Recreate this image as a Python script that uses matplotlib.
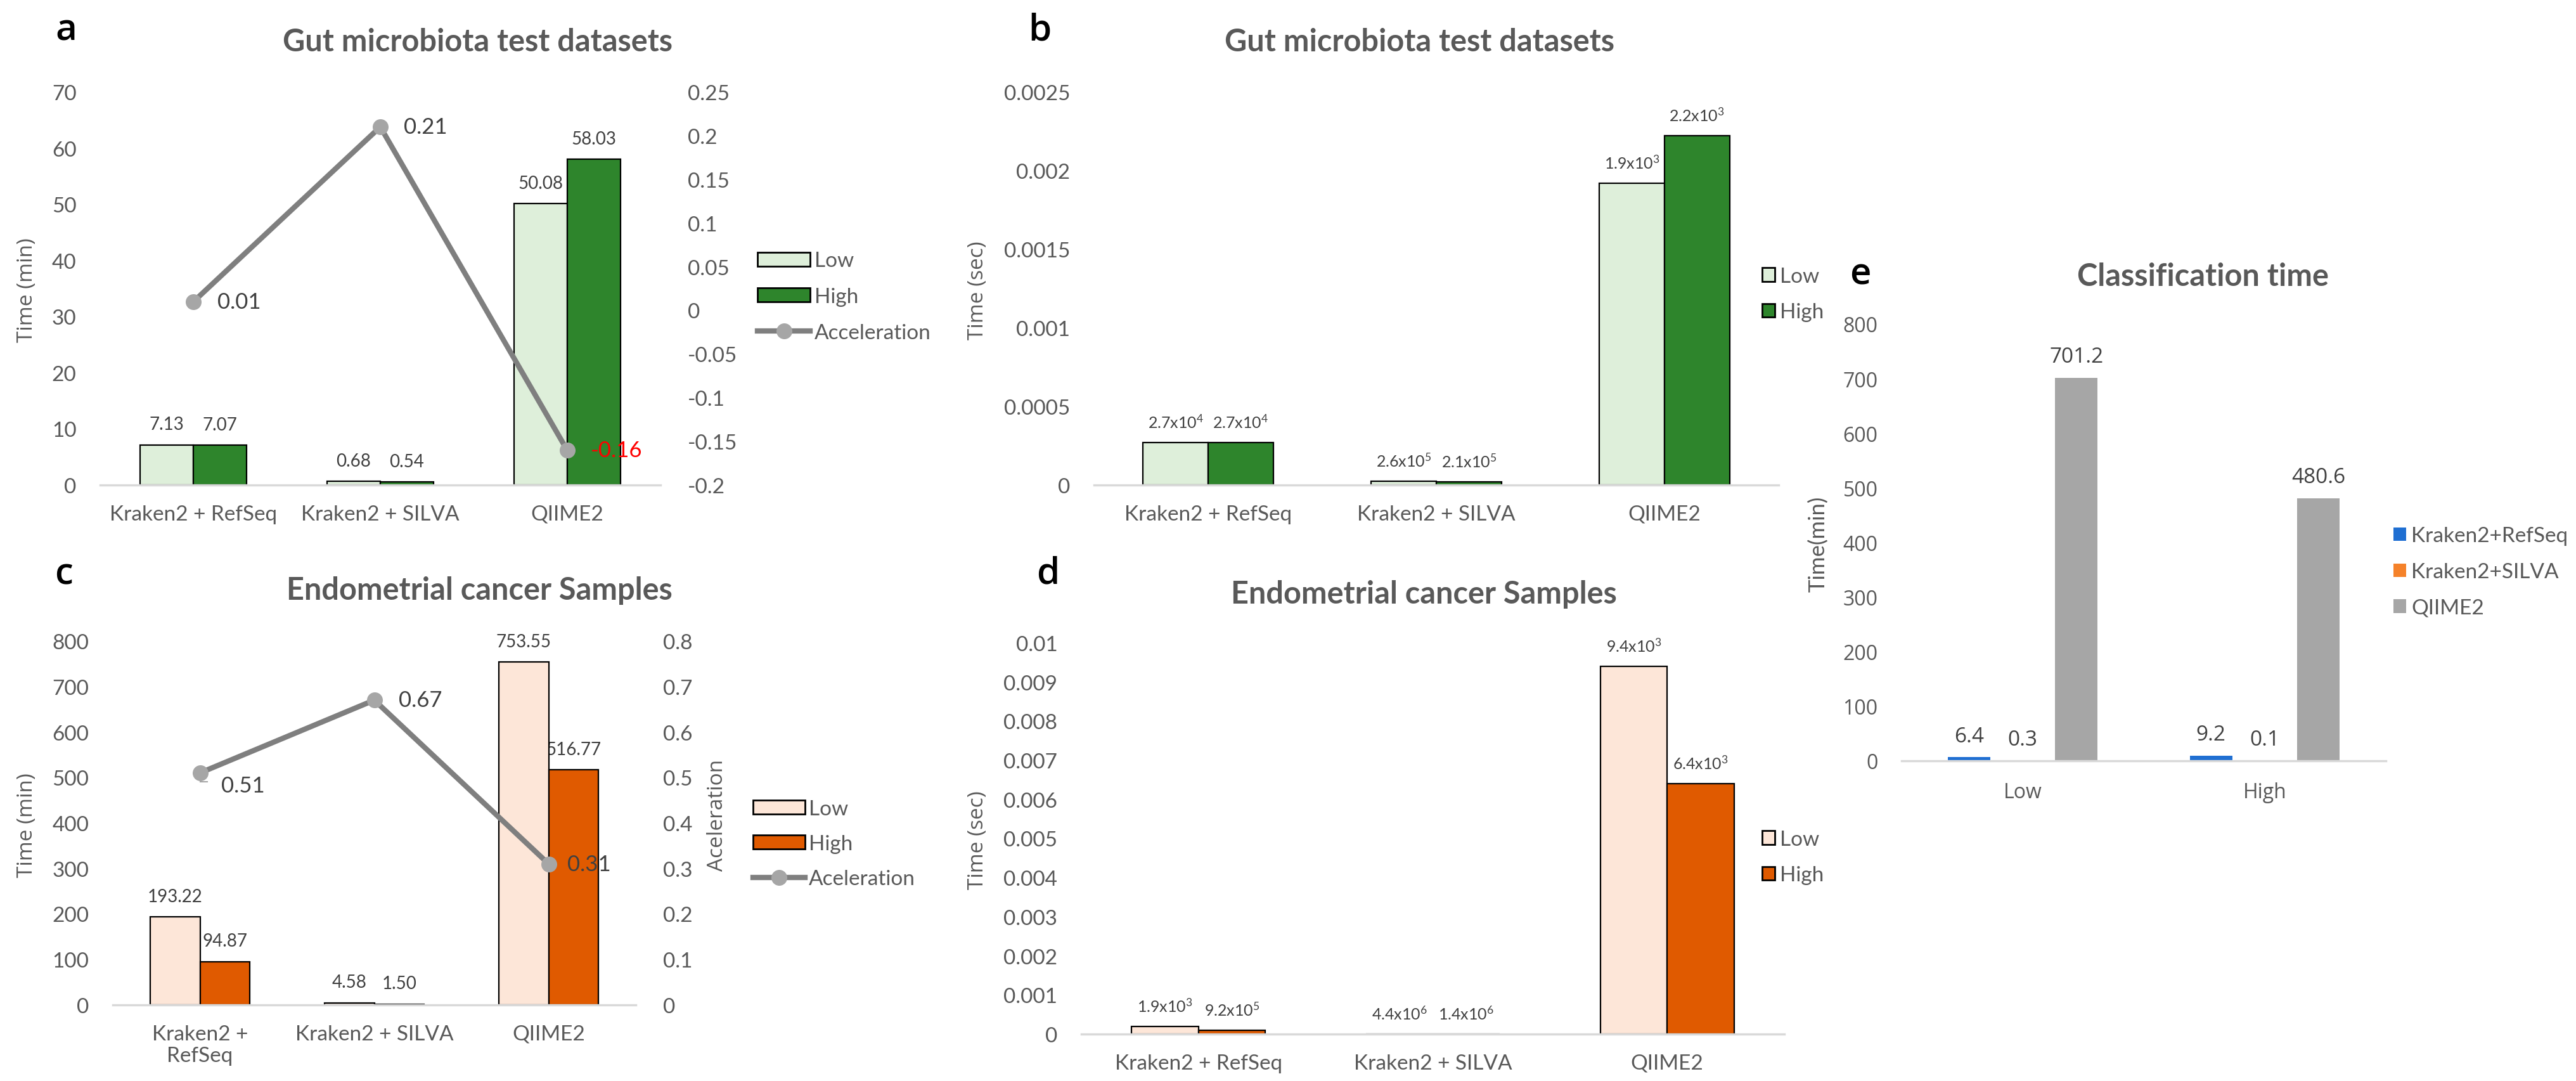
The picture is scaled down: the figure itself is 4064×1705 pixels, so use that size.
import numpy as np
import matplotlib
matplotlib.use('Agg')
import matplotlib.pyplot as plt
from matplotlib.lines import Line2D
from matplotlib.patches import Patch
from matplotlib.ticker import FuncFormatter

plt.rcParams['font.family'] = ['Lato', 'DejaVu Sans']
plt.rcParams['mathtext.fontset'] = 'custom'
plt.rcParams['mathtext.rm'] = 'Lato'
plt.rcParams['mathtext.it'] = 'Lato:italic'
plt.rcParams['mathtext.bf'] = 'Lato:bold'

# data
tools = ['Kraken2 + RefSeq', 'Kraken2 + SILVA', 'QIIME2']
tools_c = ['Kraken2 +\nRefSeq', 'Kraken2 + SILVA', 'QIIME2']

gut_min_low = [7.13, 0.68, 50.08]
gut_min_high = [7.07, 0.54, 58.03]
gut_accel = [0.01, 0.21, -0.16]

gut_sec_low = [2.7e-4, 2.6e-5, 1.92e-3]
gut_sec_high = [2.7e-4, 2.1e-5, 2.22e-3]
gut_sec_low_lbl = [r'2.7x10$^{\mathrm{4}}$', r'2.6x10$^{\mathrm{5}}$', r'1.9x10$^{\mathrm{3}}$']
gut_sec_high_lbl = [r'2.7x10$^{\mathrm{4}}$', r'2.1x10$^{\mathrm{5}}$', r'2.2x10$^{\mathrm{3}}$']

endo_min_low = [193.22, 4.58, 753.55]
endo_min_high = [94.87, 1.50, 516.77]
endo_accel = [0.51, 0.67, 0.31]

endo_sec_low = [1.9e-4, 4.4e-6, 9.4e-3]
endo_sec_high = [9.2e-5, 1.4e-6, 6.4e-3]
endo_sec_low_lbl = [r'1.9x10$^{\mathrm{3}}$', r'4.4x10$^{\mathrm{6}}$', r'9.4x10$^{\mathrm{3}}$']
endo_sec_high_lbl = [r'9.2x10$^{\mathrm{5}}$', r'1.4x10$^{\mathrm{6}}$', r'6.4x10$^{\mathrm{3}}$']

cls_groups = ['Low', 'High']
cls_names = ['Kraken2+RefSeq', 'Kraken2+SILVA', 'QIIME2']
cls_refseq = [6.4, 9.2]
cls_silva = [0.3, 0.1]
cls_qiime = [701.2, 480.6]

W, H = 4064, 1706
GREY_TXT = '#595959'
LBL = '#404040'


def box(l, t, r, b):
    return [l / W, 1 - b / H, (r - l) / W, (b - t) / H]


def fx(x):
    return x / W


def fy(y):
    return 1 - y / H


def fmt(v, pos):
    return f'{round(v, 5) + 0.0:g}'


def style(ax, pad_y=27):
    for s in ['top', 'left', 'right']:
        ax.spines[s].set_visible(False)
    ax.spines['bottom'].set_color('#D9D9D9')
    ax.spines['bottom'].set_linewidth(2.5)
    ax.tick_params(axis='both', length=0, labelsize=24, colors=GREY_TXT)
    ax.tick_params(axis='y', pad=pad_y)
    ax.tick_params(axis='x', pad=22)
    ax.yaxis.set_major_formatter(FuncFormatter(fmt))


fig = plt.figure(figsize=(W / 100, H / 100), dpi=100)

x = np.arange(3)
bw = 0.285

panels = [
    dict(rect=box(158, 146, 1042, 766), low=gut_min_low, high=gut_min_high,
         ll=[f'{v:.2f}' for v in gut_min_low], hl=[f'{v:.2f}' for v in gut_min_high],
         cols=('#DEEFDA', '#2E852C'), ylim=70, step=10, cats=tools, lfs=20,
         accel=gut_accel, alim=(-0.2, 0.25), astep=0.05),
    dict(rect=box(1726, 146, 2806, 766), low=gut_sec_low, high=gut_sec_high,
         ll=gut_sec_low_lbl, hl=gut_sec_high_lbl, lfs=18,
         cols=('#DEEFDA', '#2E852C'), ylim=0.0025, step=0.0005, cats=tools),
    dict(rect=box(178, 1012, 1003, 1586), low=endo_min_low, high=endo_min_high,
         ll=[f'{v:.2f}' for v in endo_min_low], hl=[f'{v:.2f}' for v in endo_min_high],
         cols=('#FDE6D8', '#E05A00'), ylim=800, step=100, cats=tools_c, lfs=20,
         accel=endo_accel, alim=(0, 0.8), astep=0.1),
    dict(rect=box(1706, 1015, 2815, 1632), low=endo_sec_low, high=endo_sec_high,
         ll=endo_sec_low_lbl, hl=endo_sec_high_lbl, lfs=18,
         cols=('#FDE6D8', '#E05A00'), ylim=0.01, step=0.001, cats=tools),
]

for p in panels:
    ax = fig.add_axes(p['rect'])
    b1 = ax.bar(x - bw / 2, p['low'], bw, color=p['cols'][0], edgecolor='black', linewidth=1.6, label='Low')
    b2 = ax.bar(x + bw / 2, p['high'], bw, color=p['cols'][1], edgecolor='black', linewidth=1.6, label='High')
    for bars, labs in [(b1, p['ll']), (b2, p['hl'])]:
        for t in ax.bar_label(bars, labels=labs, padding=14, fontsize=p['lfs'], color=LBL):
            t.set_zorder(0.5)
    ax.set_xlim(-0.5, 2.5)
    ax.set_ylim(0, p['ylim'])
    ax.set_yticks(np.linspace(0, p['ylim'], int(round(p['ylim'] / p['step'])) + 1))
    ax.set_xticks(x, p['cats'])
    style(ax)
    if 'accel' in p:
        ax2 = ax.twinx()
        ax2.plot(x, p['accel'], color='#7F7F7F', lw=6, marker='o', ms=17,
                 mfc='#A6A6A6', mec='#A6A6A6', solid_capstyle='round')
        lo, hi = p['alim']
        ax2.set_ylim(lo, hi)
        ax2.set_yticks(np.linspace(lo, hi, int(round((hi - lo) / p['astep'])) + 1))
        style(ax2, pad_y=31)
        ax2.spines['bottom'].set_visible(False)
        p['ax2'] = ax2
    p['ax'] = ax

# acceleration point labels
pa = panels[0]['ax2']
for xi, v in zip(x, gut_accel):
    pa.annotate(f'{v:.2f}', (xi, v), xytext=(27, 0), textcoords='offset points',
                ha='left', va='center', fontsize=25,
                color='#FF0000' if v < 0 else LBL)
pc = panels[2]['ax2']
offs = [(24, -14), (28, 0), (21, 0)]
for xi, v, o in zip(x, endo_accel, offs):
    pc.annotate(f'{v:.2f}', (xi, v), xytext=o, textcoords='offset points',
                ha='left', va='center', fontsize=25, color=LBL)
pc.plot([0, 0.04], [0.49, 0.49], color='#A6A6A6', lw=1.5)


def leg_line(fc, lab_line):
    h = [Patch(facecolor=fc[0], edgecolor='black', linewidth=2),
         Patch(facecolor=fc[1], edgecolor='black', linewidth=2),
         Line2D([], [], color='#7F7F7F', lw=6, marker='o', ms=17, mfc='#A6A6A6', mec='#A6A6A6')]
    return h, ['Low', 'High', lab_line]


h, l = leg_line(panels[0]['cols'], 'Acceleration')
fig.legend(h, l, loc='center left', bbox_to_anchor=(fx(1195), fy(469)), frameon=False,
           fontsize=24, handlelength=2.5, handleheight=0.63, handletextpad=0.2,
           labelspacing=0.8, borderpad=0, borderaxespad=0, labelcolor=GREY_TXT)
h, l = leg_line(panels[2]['cols'], 'Aceleration')
fig.legend(h, l, loc='center left', bbox_to_anchor=(fx(1188), fy(1332)), frameon=False,
           fontsize=24, handlelength=2.45, handleheight=0.63, handletextpad=0.2,
           labelspacing=0.75, borderpad=0, borderaxespad=0, labelcolor=GREY_TXT)
for p, cy in [(panels[1], 465), (panels[3], 1353)]:
    h = [Patch(facecolor=p['cols'][0], edgecolor='black', linewidth=2),
         Patch(facecolor=p['cols'][1], edgecolor='black', linewidth=2)]
    fig.legend(h, ['Low', 'High'], loc='center left', bbox_to_anchor=(fx(2780), fy(cy)),
               frameon=False, fontsize=24, handlelength=0.6, handleheight=0.6,
               handletextpad=0.25, labelspacing=0.8, borderpad=0, borderaxespad=0,
               labelcolor=GREY_TXT)

# panel e
axe = fig.add_axes(box(3000, 512, 3764, 1201))
xe = np.arange(2)
ew, eo = 0.175, 0.222
cls_cols = ['#1F6FD2', '#F5822A', '#A6A6A6']
for i, (vals, c, n) in enumerate(zip([cls_refseq, cls_silva, cls_qiime], cls_cols, cls_names)):
    bars = axe.bar(xe + (i - 1) * eo, vals, ew, color=c, label=n)
    axe.bar_label(bars, labels=[f'{v:.1f}' for v in vals], padding=12, fontsize=24,
                  color=LBL, family='Open Sans')
axe.set_xlim(-0.5, 1.5)
axe.set_ylim(0, 800)
axe.set_yticks(np.arange(0, 801, 100))
axe.set_xticks(xe, cls_groups)
style(axe)
for t in axe.get_xticklabels() + axe.get_yticklabels():
    t.set_family('Open Sans')
    t.set_fontsize(23)
axe.tick_params(axis='x', pad=24)
fig.legend(*axe.get_legend_handles_labels(), loc='center left',
           bbox_to_anchor=(fx(3776), fy(903)), frameon=False, fontsize=24,
           handlelength=0.6, handleheight=0.6, handletextpad=0.25, labelspacing=0.8,
           borderpad=0, borderaxespad=0, labelcolor=GREY_TXT)

# titles, letters, axis titles
titles = [('Gut microbiota test datasets', 754, 81), ('Gut microbiota test datasets', 2239, 81),
          ('Endometrial cancer Samples', 756, 946), ('Endometrial cancer Samples', 2246, 952),
          ('Classification time', 3475, 451)]
for t, tx, ty in titles:
    fig.text(fx(tx), fy(ty), t, ha='center', va='baseline', fontsize=35,
             fontweight='bold', color=GREY_TXT)

letters = [('a', 104, 63), ('b', 1640, 64), ('c', 101, 922), ('d', 1653, 921), ('e', 2935, 449)]
for t, tx, ty in letters:
    fig.text(fx(tx), fy(ty), t, ha='center', va='baseline', fontsize=42,
             fontweight='semibold', color='black', family='Open Sans')

ylabels = [('Time (min)', 43, 458), ('Time (sec)', 1543, 458), ('Time (min)', 43, 1302),
           ('Time (sec)', 1543, 1325)]
for t, tx, ty in ylabels:
    fig.text(fx(tx), fy(ty), t, ha='center', va='center', rotation=90, fontsize=24,
             color=GREY_TXT, family='Open Sans')
fig.text(fx(1131), fy(1286), 'Aceleration', ha='center', va='center', rotation=90,
         fontsize=24, color=GREY_TXT, family='Open Sans')
fig.text(fx(2868), fy(858), 'Time(min)', ha='center', va='center', rotation=90,
         fontsize=25, color=GREY_TXT)

fig.savefig('out.png', dpi=100)
